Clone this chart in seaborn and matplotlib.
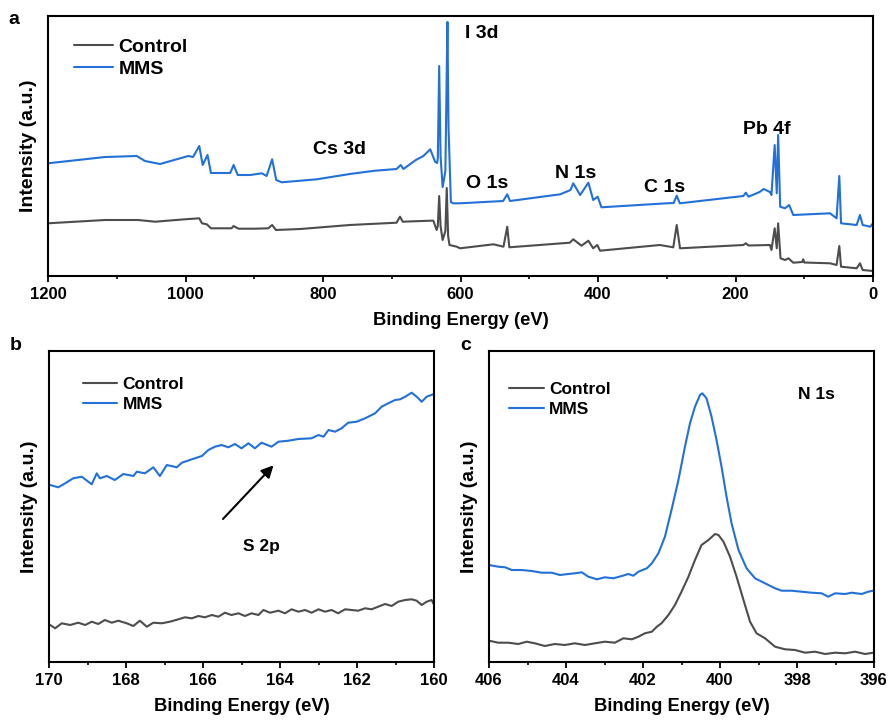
import matplotlib
matplotlib.use("Agg")
import matplotlib.pyplot as plt
from matplotlib.ticker import MultipleLocator, NullLocator
import seaborn as sns
import pandas as pd

# ---------------- survey spectra (panel a) ----------------
survey_be_mms = [1200, 1117, 1071, 1059, 1037, 996, 989, 980, 975, 968, 963, 935, 930, 924,
                 906, 889, 882, 874, 868, 860, 809, 761, 739, 724, 693, 687, 683, 665, 654,
                 644, 637, 634, 633, 631, 629, 626, 622, 620.5, 619, 617.5, 614, 611,
                 600.7, 538, 532, 528, 455, 440, 436, 426, 414, 407, 400.5, 395, 300, 290,
                 285.5, 281, 188.6, 185, 181, 165, 159, 150, 147.7, 143, 140, 138, 135, 128,
                 122, 116, 62.5, 53, 49, 46.5, 23.8, 19, 15, 4, 0]
survey_mms = [112.7, 119, 120, 115, 112, 120, 119, 130, 111, 121, 103, 103, 111, 101,
              101, 102.7, 100, 116.7, 96, 93.7, 96.7, 102, 104, 105.3, 107, 111, 107, 116, 120,
              126.7, 114.3, 113, 118, 210, 120, 89, 105, 180, 254, 150, 74, 72.7,
              72.7, 75, 81.7, 75, 81.7, 86, 92.7, 81, 93.3, 76, 79.3, 68.7, 72.7, 73,
              80.3, 72.7, 80, 83.3, 79.3, 84, 87, 84, 81, 131, 82.7, 141, 69.3, 67.7,
              71, 61, 62.7, 57.7, 100, 52.7, 51, 61, 51, 49.3, 52.7]

survey_be_ctrl = [1200, 1117, 1069, 1044, 1001, 980, 976, 969, 963, 933, 930, 923, 899,
                  879.6, 874, 868.4, 833, 761, 693, 688, 684, 644, 639.5, 634.7, 633, 631,
                  629, 626, 622, 620, 618, 616, 605.5, 600.7, 552, 537.5, 532, 529, 441,
                  436, 424, 414, 407, 401, 397, 310, 290.5, 285.5, 280.7, 188.6, 185, 181,
                  150, 147.7, 143, 140, 138, 134.5, 128, 123, 116, 103, 101.5, 100, 62.5,
                  53, 49, 46.5, 23.8, 19, 15, 0]
survey_ctrl = [52.7, 56, 56, 54.3, 56.7, 57.7, 52.7, 51.7, 47.7, 47.7, 50, 47.3, 47.3,
               47.7, 51, 46, 47, 51, 53.3, 59.3, 54.3, 55.3, 55.3, 46, 50, 80,
               50, 36, 45, 88, 40, 31, 29.3, 27.7, 31.7, 29.3, 49.3, 28.7, 33.3,
               36.7, 30.3, 35.3, 27.7, 31, 25.3, 31, 28.7, 51, 27.7, 31, 32.7, 30.5,
               31, 26, 47.7, 27.7, 52.7, 17.7, 16, 17.7, 13.3, 14, 16.7, 13.5, 12.7,
               11, 30, 9.3, 7.7, 12.7, 6, 5]

survey_peaks = ["Cs 3d", "I 3d", "O 1s", "N 1s", "C 1s", "Pb 4f"]
survey_peak_be = [776.7, 593.5, 561.5, 432.7, 303.3, 154.9]
survey_peak_y = [127, 243, 93, 103, 88, 147]

# ---------------- S 2p region (panel b) ----------------
s2p_be_mms = [169.97, 169.76, 169.58, 169.37, 169.15, 168.89, 168.76, 168.68, 168.50, 168.29,
              168.07, 167.81, 167.72, 167.51, 167.29, 167.12, 166.94, 166.68, 166.55, 166.29,
              166.03, 165.86, 165.69, 165.52, 165.34, 165.17, 165.00, 164.82, 164.65, 164.48,
              164.22, 164.04, 163.78, 163.52, 163.18, 163.00, 162.87, 162.74, 162.57, 162.40,
              162.23, 162.01, 161.79, 161.53, 161.36, 161.19, 161.01, 160.88, 160.75, 160.58,
              160.45, 160.32, 160.19, 160.02]
s2p_mms = [177, 174.7, 178.7, 183.7, 185.3, 177.7, 188.7, 183.7, 186, 182,
           188, 186, 190.3, 188.7, 194.7, 186, 197, 194.7, 199.3, 202.7,
           206, 212, 215.3, 217, 214.7, 218, 213.7, 218.7, 213.7, 219.3,
           215.3, 220.3, 221.3, 223, 223.7, 227, 225.3, 232, 230.3, 233.7,
           239.3, 240.3, 243.7, 248.7, 255.3, 258.7, 262, 262.7, 265.3, 269.3,
           265.3, 260.3, 265.3, 267.7]

s2p_be_ctrl = [169.97, 169.84, 169.67, 169.45, 169.24, 169.06, 168.89, 168.72, 168.55, 168.37,
               168.20, 167.98, 167.81, 167.64, 167.46, 167.29, 167.07, 166.86, 166.64, 166.47,
               166.29, 166.12, 165.95, 165.77, 165.60, 165.43, 165.26, 165.08, 164.91, 164.74,
               164.56, 164.43, 164.26, 164.04, 163.87, 163.70, 163.52, 163.35, 163.18, 163.00,
               162.83, 162.66, 162.49, 162.31, 162.14, 161.97, 161.79, 161.62, 161.45, 161.27,
               161.10, 160.93, 160.75, 160.58, 160.45, 160.32, 160.19, 160.06, 160.02]
s2p_ctrl = [37, 33.7, 38.7, 37, 39.3, 37, 40.3, 38, 42, 39.3,
            41.3, 38.7, 36, 41.3, 35.3, 39.3, 38.7, 40.3, 42.7, 44.7,
            43.7, 46, 44.7, 47, 45.3, 49.3, 47, 48.7, 46, 48.7,
            47, 52, 49.3, 51.3, 48.7, 52.7, 50.3, 52, 49.3, 52.7,
            50.3, 52, 48.7, 52.7, 52, 51.3, 53.7, 52.7, 55.3, 58,
            56, 60.3, 62, 62.7, 61.3, 57, 60.3, 62, 58.7]

# ---------------- N 1s region (panel c) ----------------
n1s_be_mms = [406.00, 405.76, 405.58, 405.41, 405.15, 404.89, 404.63, 404.37, 404.16, 403.94,
              403.77, 403.59, 403.42, 403.20, 402.99, 402.77, 402.55, 402.38, 402.25, 402.12,
              401.90, 401.77, 401.60, 401.43, 401.26, 401.08, 400.91, 400.78, 400.65, 400.52,
              400.46, 400.35, 400.22, 400.09, 399.96, 399.83, 399.70, 399.52, 399.31, 399.09,
              398.83, 398.57, 398.40, 398.14, 397.88, 397.62, 397.36, 397.19, 397.01, 396.75,
              396.58, 396.32, 396.15, 396.02]
n1s_mms = [97, 95.3, 94.7, 92, 92, 91, 89.3, 89.3, 87, 88,
           88.7, 89.7, 85.3, 82.7, 84.7, 83.7, 86, 88, 86.3, 90.3,
           93.7, 98.7, 108.7, 125.3, 152, 182, 215.3, 238.7, 255.3, 267,
           268.7, 263.7, 245.3, 222, 195.3, 165.3, 138.7, 112, 93.7, 83.7,
           78.7, 73.7, 71.3, 71.3, 70.3, 69.3, 68.7, 65.3, 68.7, 68,
           69.3, 68, 70.3, 71.3]

n1s_be_ctrl = [406.00, 405.76, 405.50, 405.24, 405.02, 404.81, 404.55, 404.29, 404.03, 403.77,
               403.51, 403.25, 402.99, 402.73, 402.51, 402.29, 402.12, 401.95, 401.77, 401.64,
               401.52, 401.34, 401.17, 401.00, 400.82, 400.65, 400.48, 400.30, 400.13, 400.04,
               399.91, 399.74, 399.57, 399.39, 399.22, 399.05, 398.83, 398.57, 398.31, 398.05,
               397.79, 397.53, 397.27, 397.01, 396.75, 396.49, 396.23, 396.02]
n1s_ctrl = [21.3, 19.3, 19.3, 18, 20.3, 18.7, 16, 18, 17, 18.7,
            17, 18.7, 20.3, 19.3, 23.7, 22.7, 25.3, 28.7, 30.3, 35.3,
            38.7, 47, 57, 70.3, 85.3, 102, 117, 122, 128, 127,
            120.3, 105.3, 85.3, 62, 40.3, 28.7, 23.7, 15.3, 12.7, 12,
            9.3, 10.3, 8, 9.3, 8.7, 10.3, 8, 9.3]

series_names = ["Control", "MMS"]
series_colors = ["#4d4d4d", "#2270d8"]

# ---------------- styling ----------------
sns.set_theme(style="ticks")
plt.rcParams["font.family"] = ["Liberation Sans", "DejaVu Sans"]
plt.rcParams["font.weight"] = "bold"
plt.rcParams["axes.labelweight"] = "bold"
plt.rcParams["axes.linewidth"] = 1.5
plt.rcParams["axes.edgecolor"] = "black"
plt.rcParams["text.color"] = "black"
plt.rcParams["axes.labelcolor"] = "black"
plt.rcParams["xtick.color"] = "black"
plt.rcParams["ytick.color"] = "black"

W, H = 893, 720
fig = plt.figure(figsize=(W / 100, H / 100), dpi=100)


def px_axes(left, top, right, bottom):
    return fig.add_axes([left / W, 1 - bottom / H, (right - left) / W, (bottom - top) / H])


ax_a = px_axes(48, 16, 873, 276)
ax_b = px_axes(49, 351, 434, 662)
ax_c = px_axes(489, 351, 874, 662)


def draw(ax, be_c, y_c, be_m, y_m):
    for be, y, name, col in ((be_c, y_c, series_names[0], series_colors[0]),
                             (be_m, y_m, series_names[1], series_colors[1])):
        df = pd.DataFrame({"be": be, "y": y})
        sns.lineplot(data=df, x="be", y="y", ax=ax, color=col, lw=1.5,
                     sort=False, estimator=None, label=name)


def style(ax, xlim, major, minor, ylim, leg_anchor, leg_fs, leg_space):
    ax.set_xlim(*xlim)
    ax.set_ylim(*ylim)
    ax.xaxis.set_major_locator(MultipleLocator(major))
    ax.xaxis.set_minor_locator(MultipleLocator(minor))
    ax.yaxis.set_major_locator(NullLocator())
    ax.yaxis.set_minor_locator(NullLocator())
    ax.tick_params(axis="x", which="major", direction="out", length=4, width=1.3,
                   labelsize=12, pad=4, colors="black")
    ax.tick_params(axis="x", which="minor", direction="out", length=2.5, width=1.2,
                   colors="black")
    for lab in ax.get_xticklabels():
        lab.set_fontweight("bold")
    for sp in ax.spines.values():
        sp.set_visible(True)
        sp.set_linewidth(1.5)
        sp.set_color("black")
    ax.set_xlabel("Binding Energy (eV)", fontsize=13.2, fontweight="bold", labelpad=7,
                  color="black")
    ax.set_ylabel("Intensity (a.u.)", fontsize=14, fontweight="bold", labelpad=8,
                  color="black")
    leg = ax.legend(loc="upper left", bbox_to_anchor=leg_anchor, frameon=False,
                    borderpad=0, borderaxespad=0, handlelength=2.0, handletextpad=0.3,
                    labelspacing=leg_space, prop={"weight": "bold", "size": leg_fs})
    for t in leg.get_texts():
        t.set_color("black")
    for h in leg.get_lines():
        h.set_linewidth(1.5)


draw(ax_a, survey_be_ctrl, survey_ctrl, survey_be_mms, survey_mms)
style(ax_a, (1200, 0), 200, 100, (0, 260), (0.0315, 0.915), 14, 0.22)
for name, be, y in zip(survey_peaks, survey_peak_be, survey_peak_y):
    ha = "left" if name == "I 3d" else "center"
    ax_a.text(be, y, name, ha=ha, va="center", fontsize=14, fontweight="bold")

draw(ax_b, s2p_be_ctrl, s2p_ctrl, s2p_be_mms, s2p_mms)
style(ax_b, (170, 160), 2, 1, (0, 311), (0.0875, 0.917), 12.5, 0.29)
ax_b.annotate("", xy=(164.12, 198.7), xytext=(165.53, 141),
              arrowprops=dict(arrowstyle="-|>,head_length=0.6,head_width=0.3",
                              color="black", lw=1.5))
ax_b.text(164.49, 116, "S 2p", ha="center", va="center", fontsize=12.5, fontweight="bold")

draw(ax_c, n1s_be_ctrl, n1s_ctrl, n1s_be_mms, n1s_mms)
style(ax_c, (406, 396), 2, 1, (0, 311), (0.0527, 0.902), 12.5, 0.29)
ax_c.text(397.49, 267, "N 1s", ha="center", va="center", fontsize=12.5, fontweight="bold")

fig.text(14 / W, 1 - 19 / H, "a", ha="center", va="center", fontsize=14, fontweight="bold")
fig.text(16 / W, 1 - 345 / H, "b", ha="center", va="center", fontsize=14, fontweight="bold")
fig.text(466 / W, 1 - 345 / H, "c", ha="center", va="center", fontsize=14, fontweight="bold")

fig.savefig("out.png", dpi=100)
